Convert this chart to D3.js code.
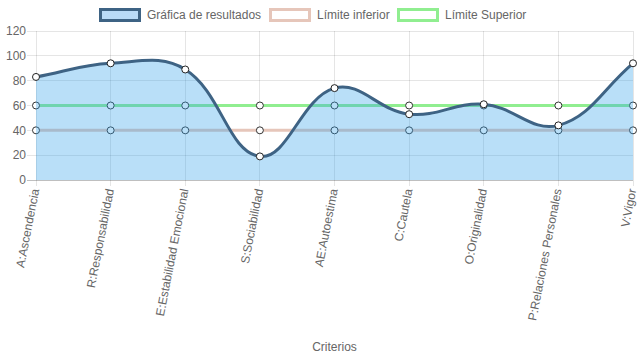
<!DOCTYPE html>
<html><head><meta charset="utf-8">
<script src="https://cdn.jsdelivr.net/npm/d3@7"></script>
<style>body{margin:0;background:#fff}svg{display:block;font-family:"Liberation Sans",Arial,Helvetica,sans-serif}</style>
</head><body><svg id="c" width="637" height="359"></svg>
<script>
const categories = ["A:Ascendencia","R:Responsabilidad","E:Estabilidad Emocional","S:Sociabilidad","AE:Autoestima","C:Cautela","O:Originalidad","P:Relaciones Personales","V:Vigor"];
const resultados = [83, 94, 89, 19, 74, 53, 61, 44, 94];
const limiteInferior = [40, 40, 40, 40, 40, 40, 40, 40, 40];
const limiteSuperior = [60, 60, 60, 60, 60, 60, 60, 60, 60];
const yTicks = [0, 20, 40, 60, 80, 100, 120];
const legendLabels = ["Gráfica de resultados", "Límite inferior", "Límite Superior"];
const axisTitle = "Criterios";

(function () {
const svg = d3.select("#c");
const pL = 36, pR = 633, pT = 31, pB = 180;
const x = d3.scalePoint().domain(categories).range([pL, pR]);
const y = d3.scaleLinear().domain([0, 120]).range([pB, pT]);

const cResult = "#3e6384", cFill = "rgba(54,162,235,0.35)";
const cLow = "#e6c6ba", cHigh = "#90ee90";
const txt = "#666";

const g = svg.append("g");
yTicks.forEach(t => {
  g.append("line").attr("x1", pL - 9).attr("x2", pR).attr("y1", y(t)).attr("y2", y(t))
    .attr("stroke", t === 0 ? "rgba(0,0,0,0.25)" : "rgba(0,0,0,0.1)").attr("stroke-width", 1).attr("shape-rendering","crispEdges");
  g.append("text").attr("x", pL - 10).attr("y", y(t)).attr("dy", "0.35em").attr("text-anchor", "end")
    .attr("fill", txt).attr("font-size", 12).text(t);
});
categories.forEach(c => {
  g.append("line").attr("x1", x(c)).attr("x2", x(c)).attr("y1", pT).attr("y2", pB + 6)
    .attr("stroke", "rgba(0,0,0,0.1)").attr("shape-rendering","crispEdges");
  g.append("text").attr("transform", `translate(${x(c)},${pB + 9}) rotate(-79)`)
    .attr("text-anchor", "end").attr("dy", "0.28em").attr("fill", txt).attr("font-size", 12).text(c);
});

function splinePath(vals, close) {
  const pts = vals.map((v, i) => [x(categories[i]), y(v)]);
  const t = 0.4, cps = [];
  pts.forEach((p, i) => {
    const prev = pts[i - 1] || p, next = pts[i + 1] || p;
    const d01 = Math.hypot(p[0] - prev[0], p[1] - prev[1]);
    const d12 = Math.hypot(next[0] - p[0], next[1] - p[1]);
    let s01 = d01 / (d01 + d12), s12 = d12 / (d01 + d12);
    if (isNaN(s01)) s01 = 0; if (isNaN(s12)) s12 = 0;
    const fa = t * s01, fb = t * s12;
    const cap = (px, py) => [Math.max(pL, Math.min(pR, px)), Math.max(pT, Math.min(pB, py))];
    cps.push({
      prev: cap(p[0] - fa * (next[0] - prev[0]), p[1] - fa * (next[1] - prev[1])),
      next: cap(p[0] + fb * (next[0] - prev[0]), p[1] + fb * (next[1] - prev[1]))
    });
  });
  const path = d3.path();
  path.moveTo(pts[0][0], pts[0][1]);
  for (let i = 1; i < pts.length; i++) {
    path.bezierCurveTo(cps[i - 1].next[0], cps[i - 1].next[1], cps[i].prev[0], cps[i].prev[1], pts[i][0], pts[i][1]);
  }
  if (close) {
    path.lineTo(pts[pts.length - 1][0], y(0));
    path.lineTo(pts[0][0], y(0));
    path.closePath();
  }
  return path.toString();
}

function flat(vals, color) {
  svg.append("path").attr("d", splinePath(vals, false)).attr("fill", "none").attr("stroke", color).attr("stroke-width", 3);
  svg.selectAll(null).data(vals).enter().append("circle")
    .attr("cx", (d, i) => x(categories[i])).attr("cy", d => y(d)).attr("r", 3.5)
    .attr("fill", "#fff").attr("stroke", "#333").attr("stroke-width", 1);
}
flat(limiteSuperior, cHigh);
flat(limiteInferior, cLow);

svg.append("path").attr("d", splinePath(resultados, true)).attr("fill", cFill);
svg.append("path").attr("d", splinePath(resultados, false)).attr("fill", "none").attr("stroke", cResult).attr("stroke-width", 3);
svg.selectAll(null).data(resultados).enter().append("circle")
  .attr("cx", (d, i) => x(categories[i])).attr("cy", d => y(d)).attr("r", 3.5)
  .attr("fill", "#fff").attr("stroke", "#222").attr("stroke-width", 1);

const legendX = [99, 269, 397];
const legendStroke = [cResult, cLow, cHigh];
const legendFill = ["#b9dbf7", "#fff", "#fff"];
legendLabels.forEach((l, i) => {
  svg.append("rect").attr("x", legendX[i] + 1.5).attr("y", 9.5).attr("width", 39).attr("height", 11)
    .attr("fill", legendFill[i]).attr("stroke", legendStroke[i]).attr("stroke-width", 3);
  svg.append("text").attr("x", legendX[i] + 48).attr("y", 15).attr("dy", "0.35em")
    .attr("fill", txt).attr("font-size", 12).text(l);
});

svg.append("text").attr("x", (pL + pR) / 2).attr("y", 347).attr("dy", "0.35em").attr("text-anchor", "middle")
  .attr("fill", txt).attr("font-size", 12).text(axisTitle);
})();
</script></body></html>
